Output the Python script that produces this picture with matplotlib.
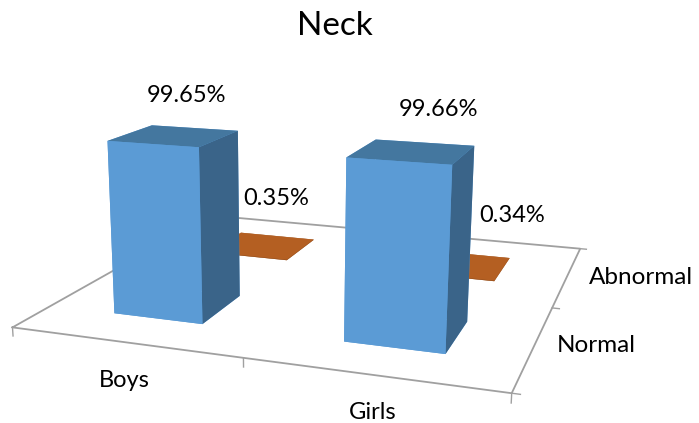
import numpy as np
import matplotlib
matplotlib.use('Agg')
import matplotlib.pyplot as plt

categories = ['Boys', 'Girls']
series_names = ['Normal', 'Abnormal']
normal = [99.65, 99.66]
abnormal = [0.35, 0.34]

plt.rcParams['font.family'] = ['Lato', 'DejaVu Sans']

W, H = 699, 423
TEXT = '#000000'
AXIS = '#a0a0a0'
# faces in bar3d order: bottom, top, front, back, left, right
BLUE_FACES = ['#5b9bd5', '#44779f', '#5b9bd5', '#5b9bd5', '#5b9bd5', '#3a6489']
ORANGE_FACES = ['#b45f22', '#b45f22', '#8f4c1b', '#8f4c1b', '#8f4c1b', '#8f4c1b']


def px(x, y):
    return x / W, 1 - y / H


fig = plt.figure(figsize=(W / 100, H / 100), dpi=100)
ax = fig.add_axes([-69 / W, -169 / H, 1, W / H], projection='3d', computed_zorder=False)
ax.set_proj_type('persp', focal_length=0.3136)
ax.view_init(elev=14.8, azim=-70)
ax.set_box_aspect((1.332, 1.981, 0.48), zoom=1.2776)
ax.set_axis_off()

# bars sit in the middle of each floor cell
bar_w = 0.4
xs, ys, tops, colors = [], [], [], []
for j, values in enumerate([normal, abnormal]):
    for i, v in enumerate(values):
        xs.append(i + 0.5 - bar_w / 2)
        ys.append(j + 0.5 - bar_w / 2)
        tops.append(v)
        colors += BLUE_FACES if j == 0 else ORANGE_FACES

n_x, n_y = len(categories), len(series_names)

# floor outline
ax.plot([0, n_x, n_x, 0, 0], [0, 0, n_y, n_y, 0], [0] * 5, color=AXIS, lw=1.3, zorder=1)
for i in range(n_x + 1):
    ax.plot([i, i], [0, 0], [0, -5], color=AXIS, lw=1, zorder=1)
for j in range(n_y + 1):
    ax.plot([n_x, n_x + 0.03], [j, j], [0, 0], color=AXIS, lw=1, zorder=1)

ax.bar3d(xs, ys, np.zeros(len(xs)), bar_w, bar_w, tops, color=colors, shade=False,
         linewidth=0, zorder=2)

ax.set_xlim(0, 2.022)
ax.set_ylim(-1.036, 2.0)
ax.set_zlim(0, 100)

fig.text(*px(335, 26), 'Neck', fontsize=24, color=TEXT, ha='center', va='center')

label_pos_normal = [(187, 95), (439, 109)]
label_pos_abnormal = [(276, 198), (512, 216)]
for (x, y), v in zip(label_pos_normal, normal):
    fig.text(*px(x, y), f'{v:.2f}%', fontsize=17, color=TEXT, ha='center', va='center')
for (x, y), v in zip(label_pos_abnormal, abnormal):
    fig.text(*px(x, y), f'{v:.2f}%', fontsize=17, color=TEXT, ha='center', va='center')

for (x, y), name in zip([(124, 380), (373, 412)], categories):
    fig.text(*px(x, y), name, fontsize=17, color=TEXT, ha='center', va='center')
for (x, y), name in zip([(596, 346), (641, 277)], series_names):
    fig.text(*px(x, y), name, fontsize=17.5, color=TEXT, ha='center', va='center')

fig.savefig('out.png', dpi=100)
